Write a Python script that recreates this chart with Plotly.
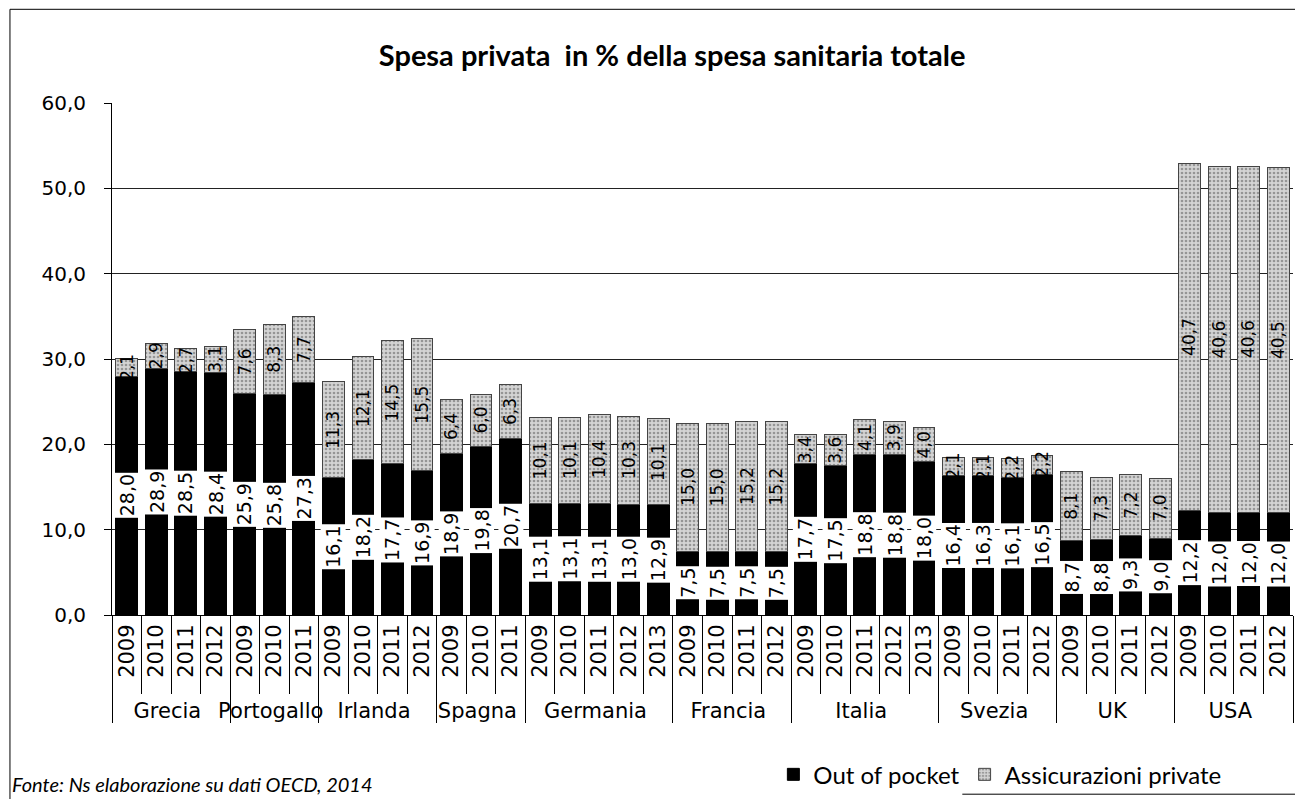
import plotly.graph_objects as go

# dati OECD 2014 - spesa privata in % della spesa sanitaria totale
countries = ["Grecia", "Portogallo", "Irlanda", "Spagna", "Germania",
             "Francia", "Italia", "Svezia", "UK", "USA"]
years = [
    ["2009", "2010", "2011", "2012"],
    ["2009", "2010", "2011"],
    ["2009", "2010", "2011", "2012"],
    ["2009", "2010", "2011"],
    ["2009", "2010", "2011", "2012", "2013"],
    ["2009", "2010", "2011", "2012"],
    ["2009", "2010", "2011", "2012", "2013"],
    ["2009", "2010", "2011", "2012"],
    ["2009", "2010", "2011", "2012"],
    ["2009", "2010", "2011", "2012"],
]
out_of_pocket = [
    [28.0, 28.9, 28.5, 28.4],
    [25.9, 25.8, 27.3],
    [16.1, 18.2, 17.7, 16.9],
    [18.9, 19.8, 20.7],
    [13.1, 13.1, 13.1, 13.0, 12.9],
    [7.5, 7.5, 7.5, 7.5],
    [17.7, 17.5, 18.8, 18.8, 18.0],
    [16.4, 16.3, 16.1, 16.5],
    [8.7, 8.8, 9.3, 9.0],
    [12.2, 12.0, 12.0, 12.0],
]
assicurazioni = [
    [2.1, 2.9, 2.7, 3.1],
    [7.6, 8.3, 7.7],
    [11.3, 12.1, 14.5, 15.5],
    [6.4, 6.0, 6.3],
    [10.1, 10.1, 10.4, 10.3, 10.1],
    [15.0, 15.0, 15.2, 15.2],
    [3.4, 3.6, 4.1, 3.9, 4.0],
    [2.1, 2.1, 2.2, 2.2],
    [8.1, 7.3, 7.2, 7.0],
    [40.7, 40.6, 40.6, 40.5],
]

# flatten per asse multicategoria
lvl_country, lvl_year, oop, ins = [], [], [], []
for c, ys, o, a in zip(countries, years, out_of_pocket, assicurazioni):
    for y, vo, va in zip(ys, o, a):
        lvl_country.append(c)
        lvl_year.append(y)
        oop.append(vo)
        ins.append(va)
x = [lvl_country, lvl_year]

num_font = "DejaVu Sans"
txt_font = "Lato"

def fmt(v):
    return f"{v:.1f}".replace(".", ",")

fig = go.Figure()
fig.add_trace(go.Bar(
    x=x, y=oop, name="Out of pocket",
    marker=dict(color="black", line=dict(color="black", width=1)),
))
fig.add_trace(go.Bar(
    x=x, y=ins, name="Assicurazioni private",
    marker=dict(color="#d4d4d4", line=dict(color="#444", width=1),
                pattern=dict(shape=".", fgcolor="#555", bgcolor="#d4d4d4",
                             size=4, solidity=0.35)),
))

annotations = []
for i, (vo, va) in enumerate(zip(oop, ins)):
    annotations.append(dict(
        x=i, y=vo / 2, xref="x", yref="y", text=fmt(vo), showarrow=False,
        textangle=-90, bgcolor="white", borderpad=1,
        font=dict(family=num_font, size=19, color="black"),
    ))
    annotations.append(dict(
        x=i, y=vo + va / 2, xref="x", yref="y", text=fmt(va), showarrow=False,
        textangle=-90, font=dict(family=num_font, size=17, color="black"),
    ))

annotations.append(dict(
    x=-0.086, y=-0.33, xref="paper", yref="paper", xanchor="left", yanchor="middle",
    text="<i>Fonte: Ns elaborazione su dati OECD, 2014</i>", showarrow=False,
    font=dict(family=txt_font, size=20, color="black"),
))

# cornice esterna (sinistra, alto, tratto in basso a destra)
frame = dict(color="black", width=1)
shapes = [
    dict(type="line", xref="paper", yref="paper", x0=-0.0864, x1=-0.0864,
         y0=-0.36, y1=1.183, line=frame),
    dict(type="line", xref="paper", yref="paper", x0=-0.0864, x1=1.01,
         y0=1.183, y1=1.183, line=frame),
    dict(type="line", xref="paper", yref="paper", x0=0.72, x1=1.01,
         y0=-0.35, y1=-0.35, line=frame),
]

# la pagina html ha 8px di margine: figura leggermente ridotta
fig.update_layout(
    width=1287, height=791,
    margin=dict(l=104, r=2, t=95, b=176),
    paper_bgcolor="white", plot_bgcolor="white",
    separators=",.",
    barmode="stack", bargap=0.26,
    title=dict(text="<b>Spesa privata  in % della spesa sanitaria totale</b>",
               x=0.516, xanchor="center", y=0.94, yanchor="middle",
               font=dict(family=txt_font, size=29, color="black")),
    yaxis=dict(range=[0, 60], dtick=10, tickformat=".1f",
               showgrid=True, gridcolor="#222", gridwidth=1,
               showline=True, linecolor="black", linewidth=1,
               ticks="outside", ticklen=7, tickcolor="black",
               ticklabelstandoff=14, zeroline=False, automargin=False,
               tickfont=dict(family=num_font, size=20, color="black")),
    xaxis=dict(type="multicategory", tickangle=-90, automargin=False,
               showline=True, linecolor="black", linewidth=1,
               ticks="outside", ticklen=78, tickcolor="black",
               showdividers=True, dividercolor="black", dividerwidth=1,
               tickfont=dict(family=num_font, size=21, color="black")),
    legend=dict(orientation="h", x=0.56, y=-0.312, xanchor="left", yanchor="middle",
                bgcolor="rgba(0,0,0,0)",
                font=dict(family=txt_font, size=24, color="black"),
                itemwidth=30, traceorder="normal"),
    annotations=annotations,
    shapes=shapes,
)

fig.write_html("out.html")
